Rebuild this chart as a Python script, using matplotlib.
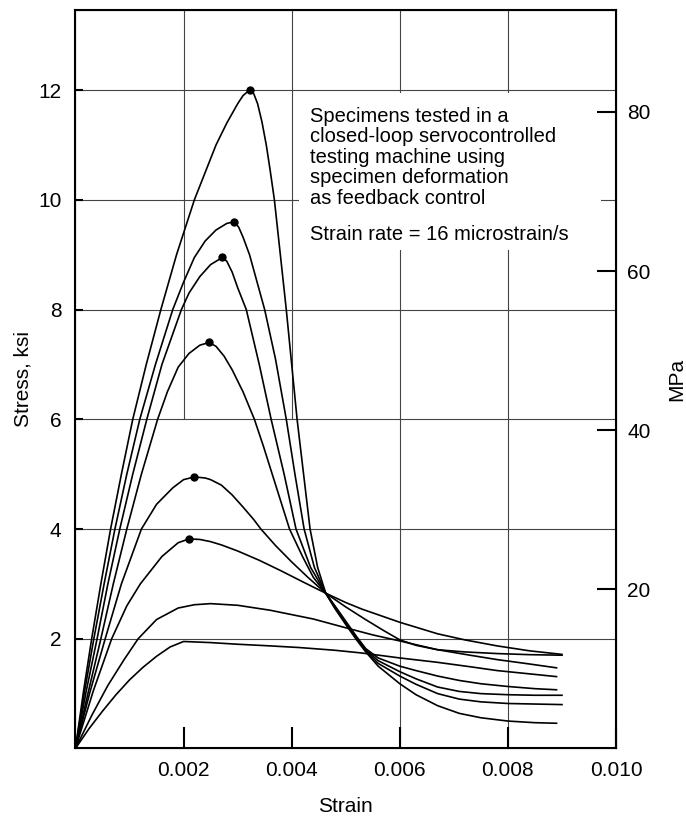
import matplotlib
matplotlib.use('Agg')
import matplotlib.pyplot as plt
from matplotlib.patches import Rectangle

plt.rcParams['font.family'] = ['Liberation Sans', 'DejaVu Sans']

strain_a = [0, 0.00015, 0.0003, 0.00047, 0.00065, 0.00085, 0.00106, 0.00131, 0.00158,
            0.00187, 0.0022, 0.0024, 0.0026, 0.0028, 0.003, 0.0031, 0.00322,
            0.0033, 0.00337, 0.00345, 0.00353, 0.0036, 0.00368, 0.00379, 0.0039, 0.004,
            0.0041, 0.00422, 0.00434, 0.00448, 0.00463, 0.0048, 0.005, 0.0052, 0.00537,
            0.0056, 0.006, 0.0063, 0.0067, 0.0071, 0.0075, 0.008, 0.0085, 0.0089]
stress_a = [0, 1.05, 2, 3, 4, 5, 6, 7, 8,
            9, 10, 10.5, 11, 11.4, 11.75, 11.9, 12.0,
            11.93, 11.75, 11.42, 11.0, 10.55, 10.0, 9.0, 8.0, 7.0,
            6.0, 5.0, 4.0, 3.3, 2.83, 2.55, 2.26, 1.98, 1.76,
            1.5, 1.18, 0.98, 0.78, 0.64, 0.56, 0.5, 0.47, 0.46]

strain_b = [0, 0.00017, 0.00034, 0.00053, 0.00073, 0.00095, 0.00119, 0.00148, 0.0018,
            0.002, 0.0022, 0.0024, 0.0026, 0.0028, 0.00294,
            0.00302, 0.0031, 0.00322, 0.00336, 0.0035, 0.0037, 0.0039, 0.00406, 0.00423,
            0.00442, 0.00463, 0.0048, 0.005, 0.0052, 0.00537, 0.0056, 0.006, 0.0063,
            0.0067, 0.0071, 0.0075, 0.008, 0.0085, 0.009]
stress_b = [0, 1.05, 2, 3, 4, 5, 6, 7, 8,
            8.5, 8.95, 9.25, 9.45, 9.57, 9.6,
            9.5, 9.32, 9.0, 8.5, 8.0, 7.1, 6.0, 5.0, 4.0,
            3.3, 2.83, 2.57, 2.28, 2.0, 1.78, 1.55, 1.32, 1.17,
            1.0, 0.9, 0.85, 0.82, 0.81, 0.8]

strain_c = [0, 0.0002, 0.0004, 0.0006, 0.00082, 0.00106, 0.00132, 0.0016, 0.00196,
            0.0021, 0.0023, 0.0025, 0.00272,
            0.0028, 0.0029, 0.003, 0.00316, 0.00328, 0.0034, 0.00362, 0.00386, 0.00408,
            0.00435, 0.00463, 0.0048, 0.005, 0.0052, 0.00537, 0.0056, 0.006, 0.0063,
            0.0067, 0.0071, 0.0075, 0.008, 0.0085, 0.009]
stress_c = [0, 1.05, 2, 3, 4, 5, 6, 7, 8,
            8.3, 8.6, 8.82, 8.95,
            8.88, 8.68, 8.4, 8.0, 7.5, 7.0, 6.0, 5.0, 4.0,
            3.3, 2.83, 2.58, 2.3, 2.02, 1.8, 1.6, 1.4, 1.27,
            1.12, 1.04, 1.0, 0.98, 0.97, 0.97]

strain_d = [0, 0.00023, 0.00047, 0.0007, 0.00095, 0.00122, 0.00152, 0.0017, 0.0019,
            0.0021, 0.0023, 0.00247,
            0.0026, 0.00275, 0.0029, 0.0031, 0.00331, 0.00348, 0.00364, 0.0038, 0.00396,
            0.0042, 0.0044, 0.00463, 0.0048, 0.005, 0.0052, 0.00537, 0.0056, 0.006,
            0.0063, 0.0067, 0.0071, 0.0075, 0.008, 0.0085, 0.0089]
stress_d = [0, 1.0, 2, 3, 4, 5, 6, 6.5, 6.95,
            7.2, 7.35, 7.4,
            7.33, 7.15, 6.9, 6.5, 6.0, 5.5, 5.0, 4.5, 4.0,
            3.5, 3.12, 2.83, 2.6, 2.32, 2.04, 1.82, 1.65, 1.5,
            1.42, 1.32, 1.24, 1.18, 1.13, 1.09, 1.07]

strain_e = [0, 0.00026, 0.00055, 0.00085, 0.00122, 0.0015, 0.0018, 0.002, 0.0022,
            0.0024, 0.0025, 0.0027, 0.0029, 0.0031, 0.0033, 0.00343, 0.0037, 0.004,
            0.0043, 0.00463, 0.005, 0.00535, 0.0057, 0.006, 0.0063, 0.0067, 0.0072,
            0.0078, 0.0084, 0.009]
stress_e = [0, 1.0, 2, 3.0, 4, 4.45, 4.75, 4.9, 4.95,
            4.93, 4.9, 4.8, 4.62, 4.4, 4.17, 4.0, 3.7, 3.4,
            3.12, 2.83, 2.58, 2.36, 2.15, 1.98, 1.88, 1.8, 1.76,
            1.73, 1.71, 1.70]

strain_f = [0, 0.00033, 0.00067, 0.00095, 0.0012, 0.0016, 0.0019, 0.0021,
            0.0023, 0.0025, 0.0027, 0.003, 0.0034, 0.0038, 0.0042, 0.00463, 0.005,
            0.0053, 0.006, 0.0067, 0.0072, 0.0078, 0.0084, 0.009]
stress_f = [0, 1.05, 2, 2.6, 3.0, 3.5, 3.75, 3.82,
            3.81, 3.77, 3.71, 3.6, 3.43, 3.24, 3.04, 2.83, 2.66,
            2.54, 2.3, 2.09, 1.98, 1.87, 1.78, 1.715]

strain_g = [0, 0.0003, 0.0006, 0.0009, 0.00116, 0.0015, 0.0019, 0.0022, 0.0025,
            0.003, 0.0036, 0.0044, 0.005, 0.0055, 0.006, 0.0067, 0.0073, 0.0078,
            0.0084, 0.0089]
stress_g = [0, 0.6, 1.15, 1.62, 2.0, 2.35, 2.56, 2.62, 2.64,
            2.61, 2.52, 2.36, 2.2, 2.07, 1.96, 1.8, 1.7, 1.62,
            1.54, 1.47]

strain_h = [0, 0.00025, 0.0005, 0.00075, 0.001, 0.00125, 0.0015, 0.00175, 0.002,
            0.0025, 0.003, 0.0036, 0.00414, 0.0048, 0.0053, 0.006, 0.0067, 0.0073,
            0.0078, 0.0084, 0.0089]
stress_h = [0, 0.36, 0.68, 0.98, 1.25, 1.48, 1.68, 1.85, 1.95,
            1.93, 1.9, 1.87, 1.84, 1.79, 1.74, 1.65, 1.57, 1.49,
            1.42, 1.36, 1.31]

# peak points marked with dots
peak_strain = [0.00322, 0.00294, 0.00272, 0.00247, 0.0022, 0.0021]
peak_stress = [12.0, 9.6, 8.95, 7.4, 4.95, 3.82]

x_ticks = [0.002, 0.004, 0.006, 0.008, 0.010]
x_labels = ['0.002', '0.004', '0.006', '0.008', '0.010']
y_ticks = [2, 4, 6, 8, 10, 12]
mpa_ticks = [20, 40, 60, 80]
ksi_to_mpa = 6.895

note = ('Specimens tested in a\nclosed-loop servocontrolled\ntesting machine using\n'
        'specimen deformation\nas feedback control')
note2 = 'Strain rate = 16 microstrain/s'

fig = plt.figure(figsize=(6.86, 8.19), dpi=100)
ax = fig.add_axes([0.110, 0.0861, 0.788, 0.9017])
ymax = 13.46
ax.set_xlim(0, 0.010)
ax.set_ylim(0, ymax)

grid_kw = dict(color='#444444', lw=0.8, zorder=1)
for yv in y_ticks:
    ax.axhline(yv, **grid_kw)
for xv in [0.002, 0.004]:
    ax.axvline(xv, ymin=6 / ymax, ymax=1, **grid_kw)
for xv in [0.006, 0.008]:
    ax.axvline(xv, **grid_kw)

# white area behind the note
ax.add_patch(Rectangle((0.00414, 9.08), 0.00559, 2.86, facecolor='white',
                       edgecolor='none', zorder=2))

curves = [(strain_a, stress_a), (strain_b, stress_b), (strain_c, stress_c),
          (strain_d, stress_d), (strain_e, stress_e), (strain_f, stress_f),
          (strain_g, stress_g), (strain_h, stress_h)]
for sx, sy in curves:
    ax.plot(sx, sy, color='black', lw=1.2, zorder=3, solid_joinstyle='round')
ax.plot(peak_strain, peak_stress, 'o', color='black', ms=5, zorder=4)

ax.text(0.00433, 11.70, note, fontsize=14.5, va='top', ha='left',
        linespacing=1.1, zorder=5)
ax.text(0.00433, 9.36, note2, fontsize=14.5, va='center', ha='left', zorder=5)

ax.set_xticks(x_ticks)
ax.set_xticklabels(x_labels)
ax.set_yticks(y_ticks)
ax.tick_params(axis='x', direction='in', length=15, width=1.5, labelsize=15, pad=9)
ax.tick_params(axis='y', direction='in', length=6, width=1.5, labelsize=15, pad=10)
ax.set_xlabel('Strain', fontsize=15, labelpad=12)
ax.set_ylabel('Stress, ksi', fontsize=15, labelpad=4)
for sp in ax.spines.values():
    sp.set_linewidth(1.5)

ax2 = ax.twinx()
ax2.set_ylim(0, ymax * ksi_to_mpa)
ax2.set_yticks(mpa_ticks)
ax2.tick_params(axis='y', direction='in', length=14, width=1.5, labelsize=15, pad=8)
ax2.set_ylabel('MPa', fontsize=15, labelpad=12)

fig.savefig('out.png', dpi=100)
